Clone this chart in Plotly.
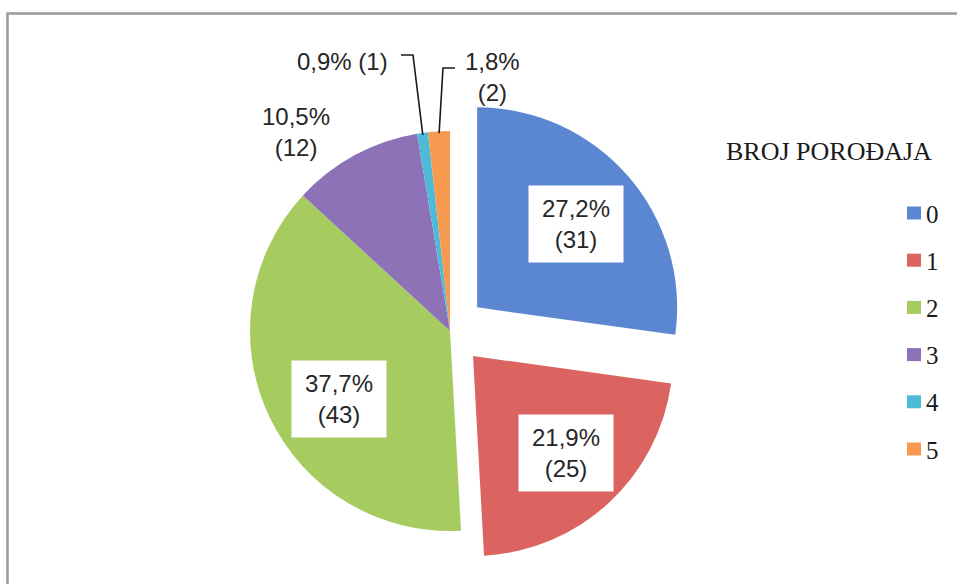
import math
import plotly.graph_objects as go

# Number of previous births (BROJ POROĐAJA) and how many patients had each
categories = ["0", "1", "2", "3", "4", "5"]
counts = [31, 25, 43, 12, 1, 2]
colors = ["#5B87D2", "#DB6461", "#A6CB5E", "#8D72B8", "#4DBAD8", "#F79A50"]
pulls = [0.18, 0.17, 0.0, 0.0, 0.0, 0.0]
legend_title = "BROJ POROĐAJA"

W, H = 957, 584
total = sum(counts)

# Pie geometry in pixels
CX, CY, R = 450, 331, 200
half = R * (1 + max(pulls))


def px(x):
    return x / W


def py(y):
    return 1 - y / H


def label_text(v, sep="<br>"):
    pct = f"{v / total * 100:.1f}".replace(".", ",")
    return f"{pct}%{sep}({v})"


def mid_point(i, r=R):
    """Point on the rim at the middle angle of slice i (clockwise from 12 o'clock)."""
    start = sum(counts[:i]) / total * 360
    mid = math.radians(start + counts[i] / total * 180)
    off = pulls[i] * R
    x = CX + (r + off) * math.sin(mid)
    y = CY - (r + off) * math.cos(mid)
    return x, y


fig = go.Figure(
    go.Pie(
        labels=categories,
        values=counts,
        marker=dict(colors=colors, line=dict(width=0)),
        pull=pulls,
        sort=False,
        direction="clockwise",
        rotation=0,
        textinfo="none",
        hoverinfo="label+value+percent",
        domain=dict(
            x=[px(CX - half), px(CX + half)],
            y=[py(CY + half), py(CY - half)],
        ),
    )
)

annotations = []
shapes = []

label_font = dict(family="Liberation Sans, Arial, sans-serif", size=24, color="#262626")


def note(x, y, text, font, **kw):
    d = dict(x=px(x), y=py(y), xref="paper", yref="paper", text=text,
             showarrow=False, font=font, xanchor="center", yanchor="middle")
    d.update(kw)
    annotations.append(d)


# Boxed labels inside the large slices
inside_pos = {0: (576, 224), 1: (566, 453), 2: (339, 399)}
for i, (x, y) in inside_pos.items():
    note(x, y, label_text(counts[i]), label_font, bgcolor="white",
         width=92, height=74, align="center", valign="middle")

# Outside labels for the small slices
note(296, 132, label_text(counts[3]), label_font, align="center")
note(342, 61, label_text(counts[4], sep=" "), label_font)
note(492, 77, label_text(counts[5]), label_font, align="center")

# Leader lines for slices 4 and 5
leaders = [(4, (401, 55), (413, 55)), (5, (455, 68), (443, 68))]
for i, (x0, y0), (x1, y1) in leaders:
    ax, ay = mid_point(i, R - 2)
    shapes.append(dict(
        type="path", xref="paper", yref="paper",
        path=f"M {px(x0)},{py(y0)} L {px(x1)},{py(y1)} L {px(ax)},{py(ay)}",
        line=dict(color="#1a1a1a", width=1.6),
    ))

# Legend drawn by hand: title plus colour squares
title_font = dict(family="Liberation Serif, Times New Roman, serif", size=26, color="#1a1a1a")
item_font = dict(family="Liberation Serif, Times New Roman, serif", size=25, color="#1a1a1a")
note(829, 152, legend_title, title_font)
for k, (cat, col) in enumerate(zip(categories, colors)):
    yc = 213 + k * 47.2
    shapes.append(dict(
        type="rect", xref="paper", yref="paper",
        x0=px(907), x1=px(921), y0=py(yc - 6.5), y1=py(yc + 6.5),
        fillcolor=col, line=dict(width=0),
    ))
    note(924, yc + 1, cat, item_font, xanchor="left")

# Chart frame
shapes.append(dict(
    type="rect", xref="paper", yref="paper",
    x0=px(7.5), x1=px(W + 5), y0=py(H + 5), y1=py(13.5),
    line=dict(color="#9a9a9a", width=2.5), fillcolor="rgba(0,0,0,0)",
))

fig.update_layout(
    width=W, height=H,
    margin=dict(l=0, r=0, t=0, b=0),
    paper_bgcolor="white",
    plot_bgcolor="white",
    showlegend=False,
    annotations=annotations,
    shapes=shapes,
)

fig.write_html("out.html")
